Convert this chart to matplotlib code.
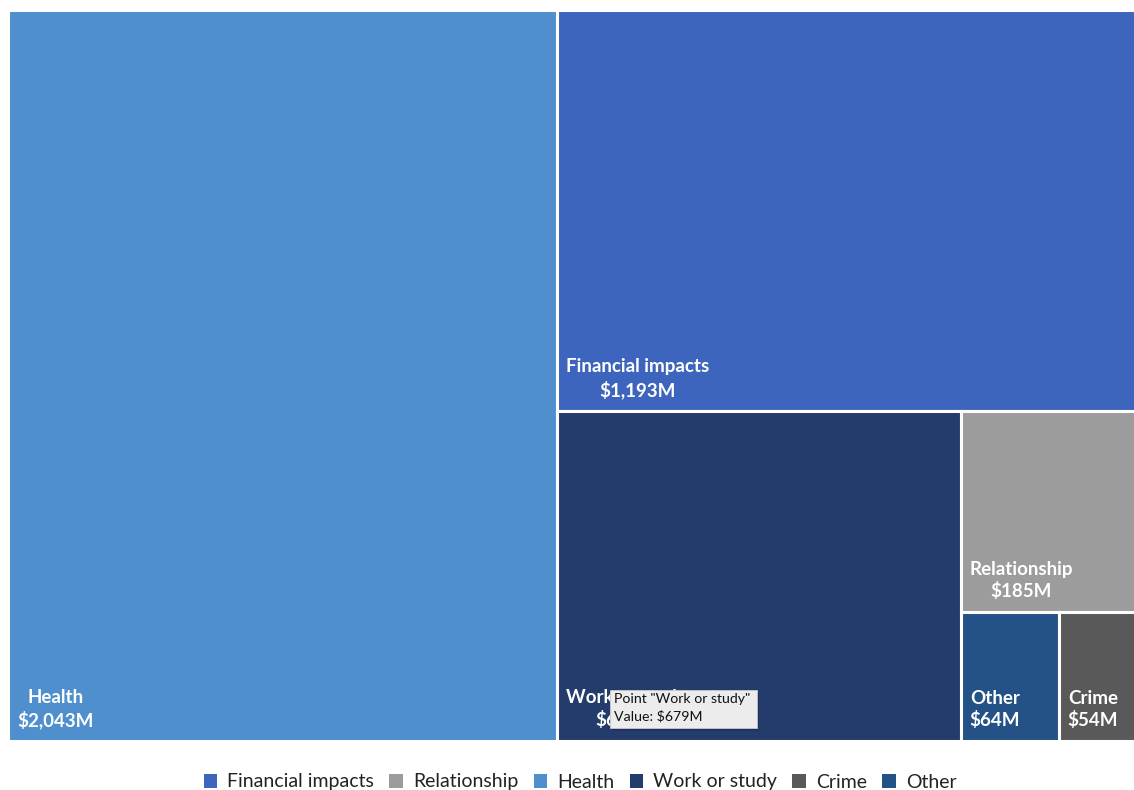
import matplotlib.pyplot as plt
import matplotlib.patches as patches
from matplotlib.patches import Patch

# Cost categories, values in $M
categories = ['Health', 'Financial impacts', 'Work or study', 'Relationship', 'Other', 'Crime']
values = [2043, 1193, 679, 185, 64, 54]
colors = {
    'Health': '#4F8FCE',
    'Financial impacts': '#3D65BD',
    'Work or study': '#233C6C',
    'Relationship': '#9C9C9C',
    'Other': '#245286',
    'Crime': '#595959',
}
legend_order = ['Financial impacts', 'Relationship', 'Health', 'Work or study', 'Crime', 'Other']

# plot area in pixels (runs a little past the right edge of the canvas)
W, H = 1133.0, 731.0


def worst(row, side):
    s = sum(row)
    return max(max(side * side * r / (s * s), s * s / (side * side * r)) for r in row)


def squarify(vals, x, y, w, h):
    # vals are already scaled to area
    rects = []
    vals = list(vals)
    while vals:
        side = min(w, h)
        row = [vals.pop(0)]
        while vals and worst(row + [vals[0]], side) <= worst(row, side):
            row.append(vals.pop(0))
        s = sum(row)
        if w >= h:
            cw = s / h
            cy = y
            for r in row:
                rh = r / cw
                rects.append((x, cy, cw, rh))
                cy += rh
            x += cw
            w -= cw
        else:
            rh = s / w
            cx = x
            for r in row:
                rw = r / rh
                rects.append((cx, y, rw, rh))
                cx += rw
            y += rh
            h -= rh
    return rects


total = sum(values)
areas = [v * W * H / total for v in values]
rects = squarify(areas, 0, 0, W, H)

fig = plt.figure(figsize=(11.34, 7.9), dpi=100)
ax = fig.add_axes([8 / 1134, (790 - 741) / 790, W / 1134, H / 790])
ax.set_xlim(0, W)
ax.set_ylim(H, 0)
ax.axis('off')

label_font = ['Lato', 'DejaVu Sans']
for name, v, (x, y, w, h) in zip(categories, values, rects):
    ax.add_patch(patches.Rectangle((x, y), w, h, facecolor=colors[name],
                                   edgecolor='white', linewidth=2.2))
    ax.text(x + 9, y + h - 12, f'{name}\n${v:,}M', color='white',
            ha='left', va='bottom', multialignment='center',
            fontsize=13.5, fontweight='bold', family=label_font, linespacing=1.3)

# hover tooltip over the Work or study tile
tx0, ty0, tx1, ty1 = 610, 690, 757, 728
shadow = patches.Rectangle((tx0 / 1134 + 0.002, 1 - (ty1 + 3) / 790), (tx1 - tx0) / 1134,
                           (ty1 - ty0) / 790, transform=fig.transFigure, facecolor='black',
                           alpha=0.12, edgecolor='none', zorder=5)
fig.patches.append(shadow)
tip = patches.Rectangle((tx0 / 1134, 1 - ty1 / 790), (tx1 - tx0) / 1134, (ty1 - ty0) / 790,
                        transform=fig.transFigure, facecolor='#ECECEC',
                        edgecolor='#C8C8C8', linewidth=0.6, zorder=6)
fig.patches.append(tip)
fig.text((tx0 + 4) / 1134, 1 - (ty0 + 3) / 790, 'Point "Work or study"\nValue: $679M',
         ha='left', va='top', fontsize=10.2, color='#111111',
         family=['Lato', 'DejaVu Sans'], linespacing=1.45, zorder=7)

handles = [Patch(facecolor=colors[c], edgecolor='none', label=c) for c in legend_order]
leg = fig.legend(handles=handles, loc='center', ncol=6, frameon=False,
                 bbox_to_anchor=(580 / 1134, 1 - 782 / 790),
                 handlelength=0.7, handleheight=0.7, handletextpad=0.5,
                 columnspacing=0.8, prop={'family': ['Lato', 'DejaVu Sans'], 'size': 14})
for t in leg.get_texts():
    t.set_color('#222222')

fig.savefig('out.png', dpi=100, facecolor='white')
